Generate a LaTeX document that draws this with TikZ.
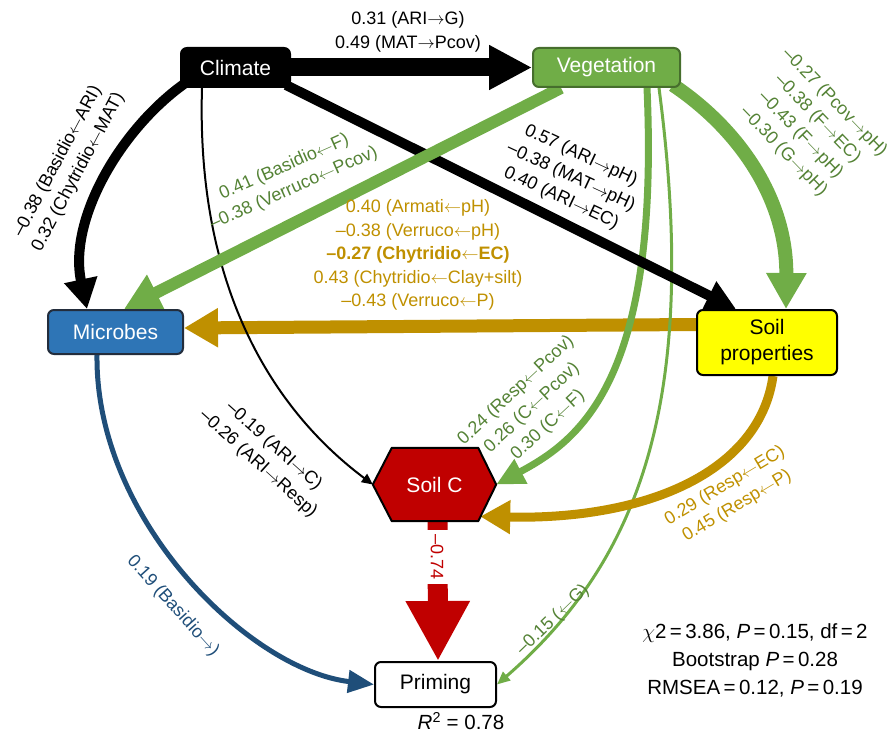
\documentclass[tikz,border=0pt]{standalone}
\usepackage{fontspec}
\setmainfont{Liberation Sans}
\usetikzlibrary{arrows.meta,calc,backgrounds}
\definecolor{cgreen}{RGB}{112,173,71}
\definecolor{cgreenD}{RGB}{84,130,53}
\definecolor{cgreenB}{RGB}{70,110,45}
\definecolor{cblue}{RGB}{46,117,182}
\definecolor{cblueB}{RGB}{35,45,60}
\definecolor{cblueD}{RGB}{31,78,121}
\definecolor{cgold}{RGB}{191,144,0}
\definecolor{cred}{RGB}{192,0,0}
\definecolor{cyel}{RGB}{255,255,0}
\newcommand{\myra}{$\rightarrow$}
\newcommand{\myla}{$\leftarrow$}
\tikzset{
  box/.style={rounded corners=6pt, draw, line width=2pt, inner sep=0pt,
    font=\fontsize{21}{26}\selectfont, align=center},
  lab/.style={font=\fontsize{18}{23.5}\selectfont, align=center, inner sep=0pt},
  stat/.style={font=\fontsize{20.5}{28}\selectfont, align=center, inner sep=0pt},
  tri/.style 2 args={-{Triangle[length=#1pt,width=#2pt]}}
}
\begin{document}
\begin{tikzpicture}[x=1pt,y=-1pt]
\useasboundingbox (0,0) rectangle (893,735);
% nodes
\node[box, fill=black, text=white, minimum width=109pt, minimum height=39pt] (clim) at (235.5,67.5) {Climate};
\node[box, fill=cgreen, draw=cgreenB, text=white, minimum width=147pt, minimum height=39pt] (veg) at (606.5,67.5) {Vegetation};
\node[box, fill=cblue, draw=cblueB, text=white, minimum width=135pt, minimum height=44pt] (mic) at (115.5,332) {Microbes};
\node[box, fill=cyel, minimum width=140pt, minimum height=65pt] (soil) at (767,342.5) {Soil\\properties};
\node[font=\fontsize{21}{26}\selectfont, text=white, minimum width=123pt, minimum height=73pt, inner sep=0pt] (soilc) at (434.5,484.5) {Soil C};
\node[box, fill=white, minimum width=121pt, minimum height=45pt] (prim) at (435.5,684.5) {Priming};

\begin{pgfonlayer}{background}
% gold horizontal
\draw[cgold, line width=13pt, tri={34}{37}] ($(soil.west)+(0,-18)$) -- ($(mic.east)+(0,-4)$);
% green to soil C and priming
\draw[cgreen, line width=7pt, tri={28}{26}] ($(veg.south west)+(115,0)$) .. controls (660,380) and (580,440) .. (soilc.east);
\draw[cgreen, line width=3pt, tri={13}{11}] ($(veg.south west)+(127,0)$) .. controls (700,400) and (640,560) .. (prim.east);
% gold curve
\draw[cgold, line width=9pt, tri={30}{32}] ($(soil.south west)+(77,0)$) .. controls (760,470) and (650,520) .. ($(soilc.east)+(-16,32)$);
% black
\draw[black, line width=10pt, tri={30}{30}] ($(clim.south east)+(-5,-3)$) -- ($(soil.north west)+(40,0)$);
\draw[black, line width=10pt, tri={30}{32}] ($(clim.south west)+(4,-4)$) .. controls (120,130) and (68,220) .. ($(mic.north west)+(40,0)$);
\draw[black, line width=2pt, tri={11}{10}] ($(clim.south west)+(22,0)$) .. controls (195,320) and (300,430) .. (soilc.west);
\draw[black, line width=18pt, tri={43}{42}] (clim.east) -- (veg.west);
% green
\draw[cgreen, line width=12pt, tri={36}{38}] ($(veg.south west)+(29,0)$) -- ($(mic.north west)+(77,0)$);
\draw[cgreen, line width=14pt, tri={36}{38}] ($(veg.south east)+(-8,-3)$) .. controls (740,130) and (787,200) .. ($(soil.north west)+(90,0)$);
% blue
\draw[cblueD, line width=5pt, tri={26}{22}] ($(mic.south west)+(50,0)$) .. controls (95,520) and (250,670) .. (prim.west);
% red
\draw[cred, line width=20pt, tri={60}{60}] ($(soilc.south)+(3,0)$) -- ($(prim.north)+(2.5,0)$);
% hexagon
\filldraw[fill=cred, draw=black, line width=2pt, line join=round] (soilc.west) -- ($(soilc.north west)+(19,0)$) -- ($(soilc.north east)+(-18,0)$) -- (soilc.east) -- ($(soilc.south east)+(-18,0)$) -- ($(soilc.south west)+(19,0)$) -- cycle;
\end{pgfonlayer}

% labels
\node[lab] (l1) at (408,32) {0.31 (ARI\myra G)\\0.49 (MAT\myra Pcov)};
\node[lab, rotate=62] (l2) at (68,167) {–0.38 (Basidio\myla ARI)\\0.32 (Chytridio\myla MAT)};
\node[lab, rotate=-25] (l3) at (571,177) {0.57 (ARI\myra pH)\\–0.38 (MAT\myra pH)\\0.40 (ARI\myra EC)};
\node[lab, rotate=24, text=cgreenD] (l4) at (289,178) {0.41 (Basidio\myla F)\\–0.38 (Verruco\myla Pcov)};
\node[lab, rotate=-46, text=cgreenD] (l5) at (809,127) {–0.27 (Pcov\myra pH)\\–0.38 (F\myra EC)\\–0.43 (F\myra pH)\\–0.30 (G\myra pH)};
\node[lab, text=cgold] (l6) at (418,255) {0.40 (Armati\myla pH)\\–0.38 (Verruco\myla pH)\\\textbf{–0.27 (Chytridio\myla EC)}\\0.43 (Chytridio\myla Clay+silt)\\–0.43 (Verruco\myla P)};
\node[lab, rotate=43, text=cgreenD] (l7) at (532,408) {0.24 (Resp\myla Pcov)\\0.26 (C\myla Pcov)\\0.30 (C\myla F)};
\node[lab, rotate=-42] (l8) at (266,455) {–0.19 (ARI\myra C)\\–0.26 (ARI\myra Resp)};
\node[lab, rotate=31, text=cgold] (l9) at (731,496) {0.29 (Resp\myla EC)\\0.45 (Resp\myla P)};
\node[lab, rotate=-48, text=cblueD] (l10) at (173,606) {0.19 (Basidio\myra)};
\node[lab, rotate=44, text=cgreenD] (l11) at (553,620) {–0.15 (\myla G)};
\node[lab, rotate=-90, text=cred, fill=white, minimum height=26pt, inner xsep=4pt] (l12) at (437,557) {–0.74};
\node[stat] (l13) at (755,660) {$\chi$2\,=\,3.86, \textit{P}\,=\,0.15, df\,=\,2\\Bootstrap \textit{P}\,=\,0.28\\RMSEA\,=\,0.12, \textit{P}\,=\,0.19};
\node[stat] (l14) at (461,721) {\textit{R}\textsuperscript{2} = 0.78};
\end{tikzpicture}
\end{document}
